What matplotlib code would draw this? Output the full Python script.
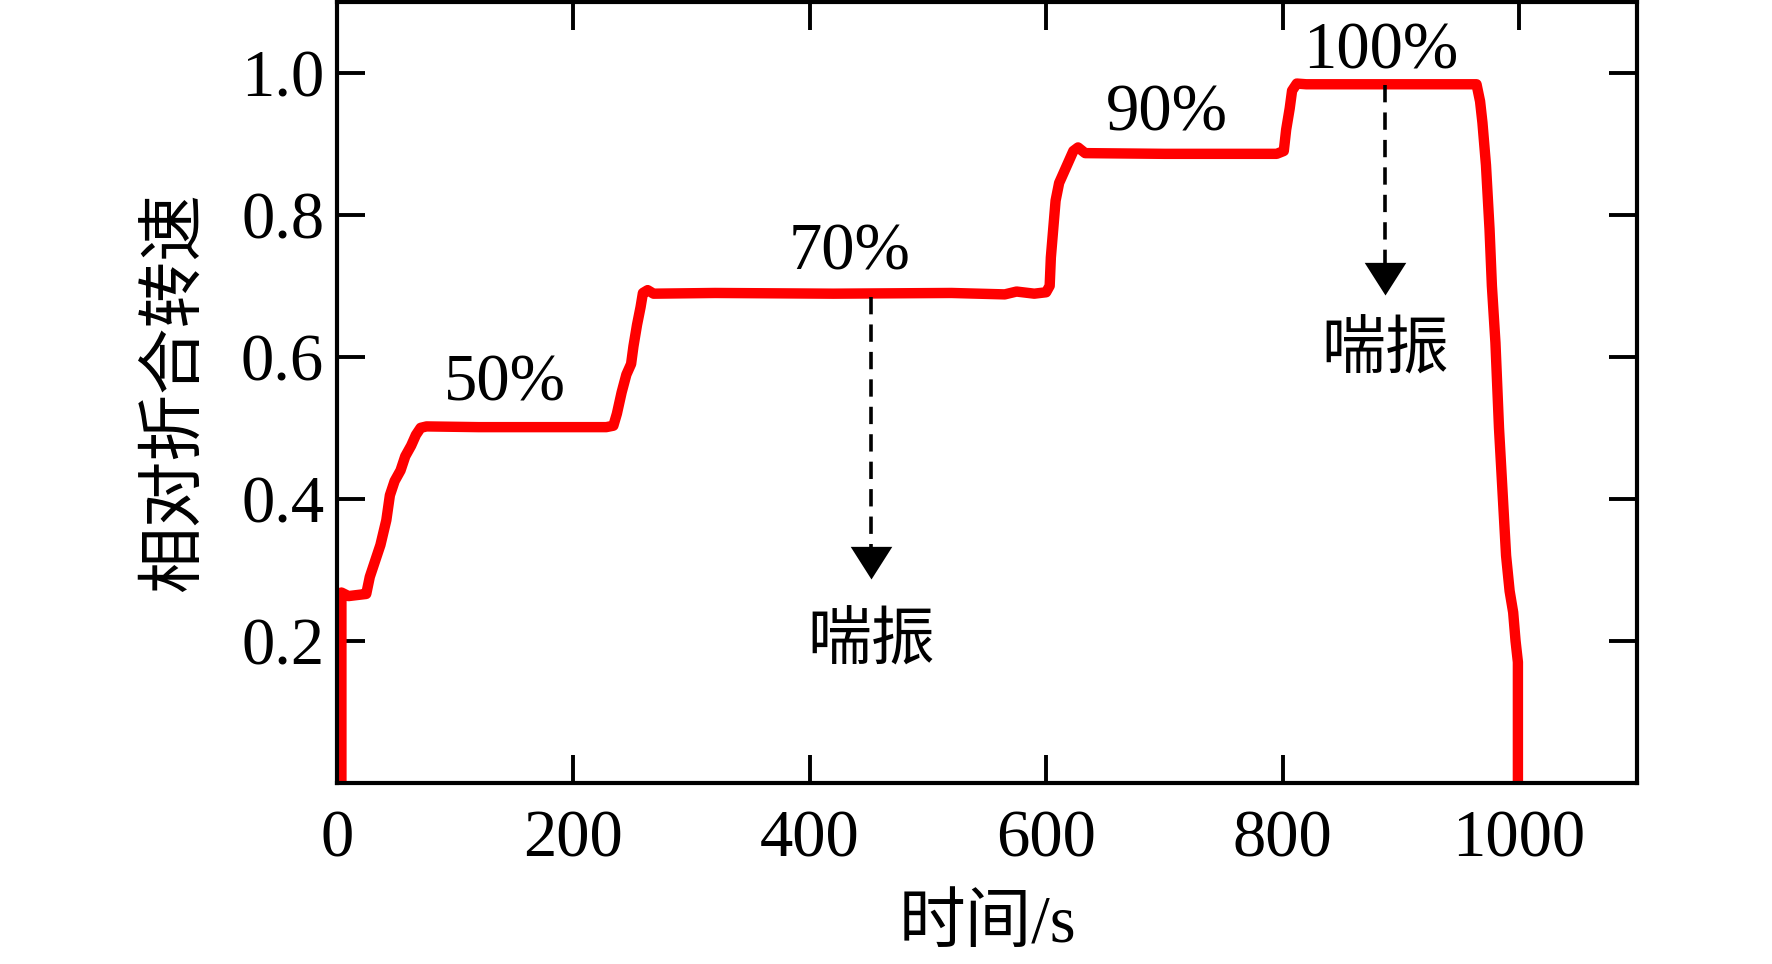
import matplotlib
matplotlib.use("Agg")
import matplotlib.pyplot as plt

plt.rcParams['font.family'] = ['Liberation Serif', 'Noto Sans CJK SC']

# time (s) and relative corrected speed
time_s = [4, 4, 10, 20, 25, 28, 32, 37, 42, 45, 49, 54, 58, 63, 67, 71, 76,
          120, 180, 228, 234, 237, 241, 245, 249, 251, 254, 257, 259, 263, 268,
          320, 420, 520, 565, 575, 590, 600, 603, 604, 606, 608, 611, 615, 619,
          623, 627, 633, 700, 760, 795, 801, 803, 806, 808, 812, 820, 880, 940,
          964, 967, 969, 972, 975, 977, 980, 983, 985, 987, 989, 992, 995, 997,
          999, 999]
speed = [0.0, 0.268, 0.263, 0.265, 0.266, 0.29, 0.31, 0.335, 0.37, 0.405,
         0.425, 0.44, 0.46, 0.475, 0.49, 0.5, 0.502,
         0.501, 0.501, 0.501, 0.503, 0.52, 0.55, 0.575, 0.59, 0.615, 0.645,
         0.67, 0.69, 0.694, 0.689,
         0.69, 0.689, 0.69, 0.688, 0.692, 0.689, 0.691, 0.70, 0.74, 0.78,
         0.82, 0.845, 0.86, 0.875,
         0.89, 0.895, 0.887, 0.886, 0.886, 0.886, 0.89, 0.92, 0.95, 0.975,
         0.985, 0.984, 0.984, 0.984,
         0.984, 0.96, 0.93, 0.87, 0.78, 0.70, 0.62, 0.50, 0.44, 0.38, 0.32,
         0.27, 0.24, 0.20, 0.17, 0.0]

# step labels
step_text = ['50%', '70%', '90%', '100%']
step_x = [142, 434, 702, 883]
step_y = [0.562, 0.747, 0.942, 1.029]

# surge arrows: x, start y, tip y, text y
surge_x = [452, 887]
surge_start = [0.685, 0.983]
surge_tip = [0.287, 0.687]
surge_text_y = [0.195, 0.605]

fig = plt.figure(figsize=(17.72, 9.64), dpi=100)
ax = fig.add_axes([0.190, 0.188, 0.734, 0.810])

ax.plot(time_s, speed, color='#ff0000', lw=7.5, solid_joinstyle='round',
        solid_capstyle='butt')

head = [(-1, 1.57), (1, 1.57), (0, 0)]
for i in range(len(surge_x)):
    ax.plot([surge_x[i], surge_x[i]], [surge_start[i], surge_tip[i] + 0.02],
            color='black', lw=2.6, dashes=(4.8, 2.8))
    ax.plot(surge_x[i], surge_tip[i], marker=head, markersize=47,
            color='black', markeredgewidth=0)
    ax.text(surge_x[i], surge_text_y[i], '喘振', fontsize=46,
            ha='center', va='center')

for i in range(len(step_text)):
    ax.text(step_x[i], step_y[i], step_text[i], fontsize=48,
            ha='center', va='center')

ax.set_xlim(0, 1100)
ax.set_ylim(0, 1.1)
ax.set_xticks([0, 200, 400, 600, 800, 1000])
ax.set_yticks([0.2, 0.4, 0.6, 0.8, 1.0])
ax.set_yticklabels(['0.2', '0.4', '0.6', '0.8', '1.0'])
ax.tick_params(direction='in', length=20, width=2.8, labelsize=48,
               top=True, right=True)
ax.tick_params(axis='x', pad=19)
ax.tick_params(axis='y', pad=9)
for s in ax.spines.values():
    s.set_linewidth(3)

ax.set_xlabel('时间/s', fontsize=48, labelpad=18)
ax.set_ylabel('相对折合转速', fontsize=48, labelpad=25)

fig.savefig('out.png', dpi=100)
